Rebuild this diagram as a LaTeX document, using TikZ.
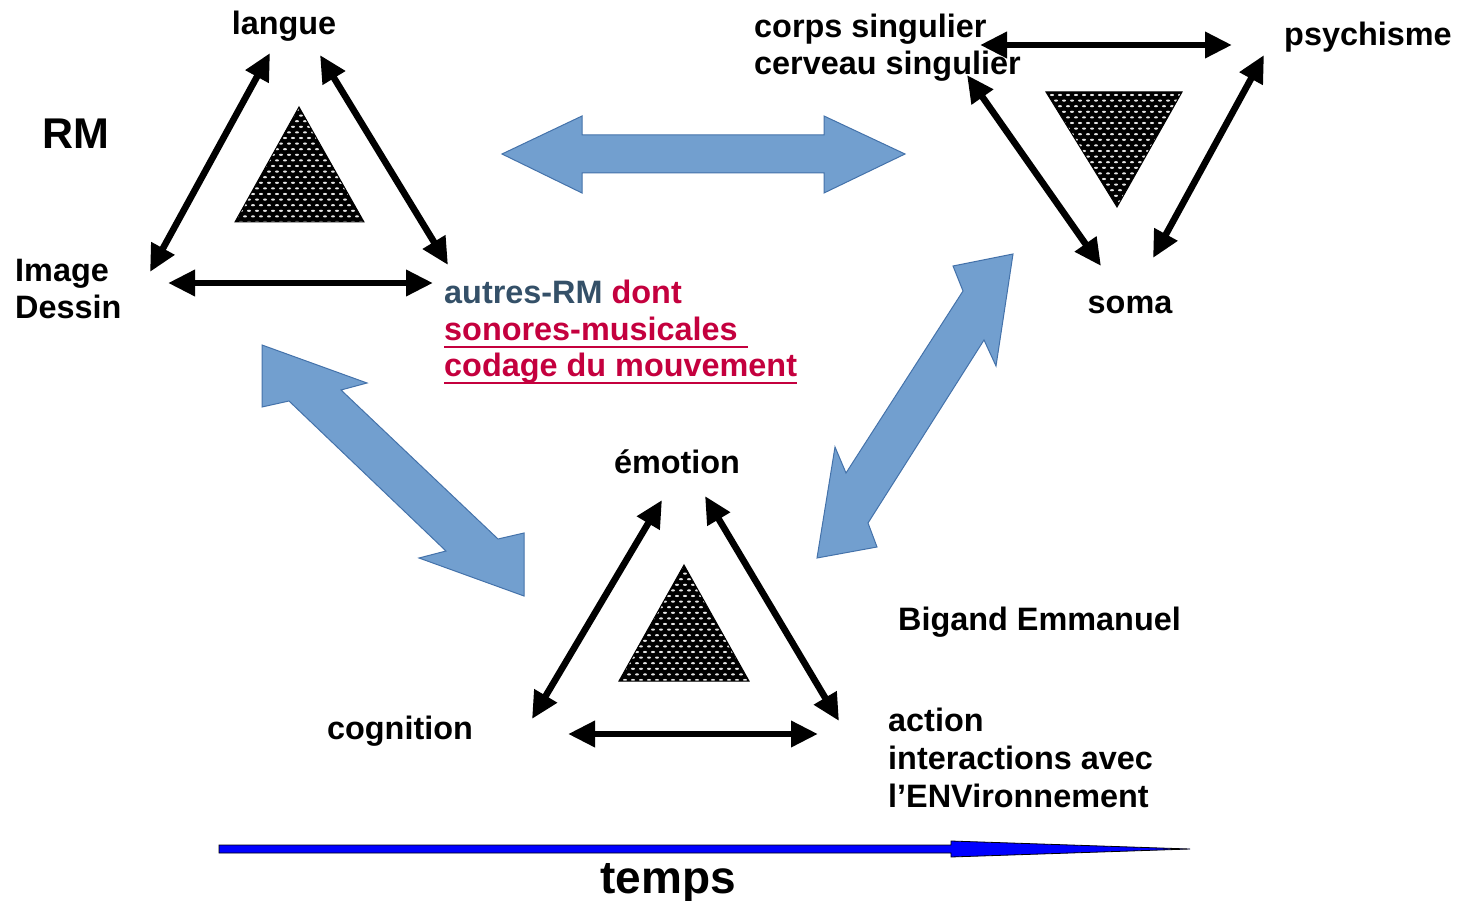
\documentclass[tikz,border=0pt]{standalone}
\usepackage{fontspec}
\setmainfont{Liberation Sans}
\usetikzlibrary{arrows.meta}
\definecolor{bluefill}{RGB}{114,159,207}
\definecolor{blueedge}{RGB}{68,114,170}
\definecolor{slate}{RGB}{52,80,104}
\definecolor{crim}{RGB}{196,0,62}
\tikzset{
  lbl/.style={font=\fontsize{32.4}{38}\selectfont\bfseries, inner sep=0pt},
  dblarrow/.style={line width=6.6pt, line cap=butt,
    {Triangle[length=27pt,width=25pt]}-{Triangle[length=27pt,width=25pt]}},
  bigarrow/.style={fill=bluefill, draw=blueedge, line width=1pt, line join=miter},
  timearrow/.style={fill=blue, draw=black, line width=0.8pt},
  uline/.style={crim, line width=2.6pt}
}
\newcommand\dottri[7]{% three vertices (x,y) as 6 numbers + xmin
  \begin{scope}
    \clip (#1,#2) -- (#3,#4) -- (#5,#6) -- cycle;
    \fill[black] (#1,#2) -- (#3,#4) -- (#5,#6) -- cycle;
    \foreach \i in {0,...,21} {
      \foreach \j in {0,...,17} {
        \pgfmathsetmacro\xx{#7+8*\j+4*mod(\i,2)}
        \pgfmathsetmacro\yy{min(#2,#6)+3+5.6*\i}
        \fill[white!90!black] (\xx,\yy) ellipse [x radius=2.0, y radius=1.1];
      }
    }
  \end{scope}
  \draw[black, line width=1pt, line join=miter] (#1,#2) -- (#3,#4) -- (#5,#6) -- cycle;
}
\begin{document}
\begin{tikzpicture}[x=1pt,y=-1pt]
\useasboundingbox (0,0) rectangle (1464,901);

% ---- big blue double arrows ----
\draw[bigarrow] (502,154) -- (582,116) -- (582,135) -- (824,135) -- (824,116) -- (905,154)
  -- (824,193) -- (824,173) -- (582,173) -- (582,193) -- cycle;
\draw[bigarrow] (262,345) -- (367,383) -- (341,390) -- (498,539) -- (524,533) -- (524,596)
  -- (419,558) -- (446,551) -- (289,401) -- (262,407) -- cycle;
\draw[bigarrow] (1013,254) -- (996,366) -- (984,340) -- (868,523) -- (877,547) -- (817,558)
  -- (835,447) -- (846,473) -- (963,291) -- (953,266) -- cycle;

% ---- textured triangles ----
\dottri{299}{107}{235}{222}{364}{222}{233}
\dottri{1046}{92}{1182}{92}{1117}{207}{1044}
\dottri{684}{565}{619}{681}{749}{681}{617}

% ---- top-left triangle (RM) ----
\coordinate (la1) at (270,53);  \coordinate (la2) at (150,272);
\coordinate (lb1) at (320,55);  \coordinate (lb2) at (448,265);
\coordinate (lc1) at (168,283); \coordinate (lc2) at (433,283);
\draw[dblarrow] (la1) -- (la2);
\draw[dblarrow] (lb1) -- (lb2);
\draw[dblarrow] (lc1) -- (lc2);

\node[lbl, anchor=base] (langue) at (284,35) {langue};
\node[lbl, anchor=base, font=\fontsize{43}{50}\selectfont\bfseries] (rm) at (76,149) {RM};
\node[lbl, anchor=base west] (image) at (15,282) {Image};
\node[lbl, anchor=base west] (dessin) at (15,319) {Dessin};
\node[lbl, anchor=base west] (autres) at (444,303) {\textcolor{slate}{autres-RM} \textcolor{crim}{dont}};
\node[lbl, anchor=base west, text=crim] (sonores) at (444,340) {sonores-musicales};
\node[lbl, anchor=base west, text=crim] (codage) at (444,376) {codage du mouvement};
\draw[uline] ([yshift=-7pt]sonores.base west) -- ([yshift=-7pt,xshift=10pt]sonores.base east);
\draw[uline] ([yshift=-7pt]codage.base west) -- ([yshift=-7pt]codage.base east);

% ---- top-right triangle ----
\coordinate (ra1) at (980,45);   \coordinate (ra2) at (1232,45);
\coordinate (rb1) at (967,75);   \coordinate (rb2) at (1101,266);
\coordinate (rc1) at (1264,55);  \coordinate (rc2) at (1153,258);
\draw[dblarrow] (ra1) -- (ra2);
\draw[dblarrow] (rb1) -- (rb2);
\draw[dblarrow] (rc1) -- (rc2);

\node[lbl, anchor=base west] (corps) at (754,38) {corps singulier};
\node[lbl, anchor=base west] (cerveau) at (754,75) {cerveau singulier};
\node[lbl, anchor=base west] (psy) at (1284,46) {psychisme};
\node[lbl, anchor=base] (soma) at (1130,313) {soma};

% ---- bottom triangle ----
\coordinate (ba1) at (662,500);  \coordinate (ba2) at (532,719);
\coordinate (bb1) at (705,496);  \coordinate (bb2) at (839,721);
\coordinate (bc1) at (568,734);  \coordinate (bc2) at (818,734);
\draw[dblarrow] (ba1) -- (ba2);
\draw[dblarrow] (bb1) -- (bb2);
\draw[dblarrow] (bc1) -- (bc2);

\node[lbl, anchor=base] (emotion) at (677,473) {émotion};
\node[lbl, anchor=base] (cognition) at (400,739) {cognition};
\node[lbl, anchor=base west] (action) at (888,731) {action};
\node[lbl, anchor=base west] (inter) at (888,769) {interactions avec};
\node[lbl, anchor=base west] (env) at (888,807) {l’ENVironnement};
\node[lbl, anchor=base west] (bigand) at (898,630) {Bigand Emmanuel};

% ---- time arrow ----
\coordinate (t0) at (219,849);
\coordinate (t1) at (1190,849);
\draw[timearrow] (219,845) -- (951,845) -- (951,841) -- (t1) -- (951,857) -- (951,853) -- (219,853) -- cycle;
\node[lbl, anchor=base, font=\fontsize{46}{52}\selectfont\bfseries] (temps) at (668,893) {temps};
\end{tikzpicture}
\end{document}
